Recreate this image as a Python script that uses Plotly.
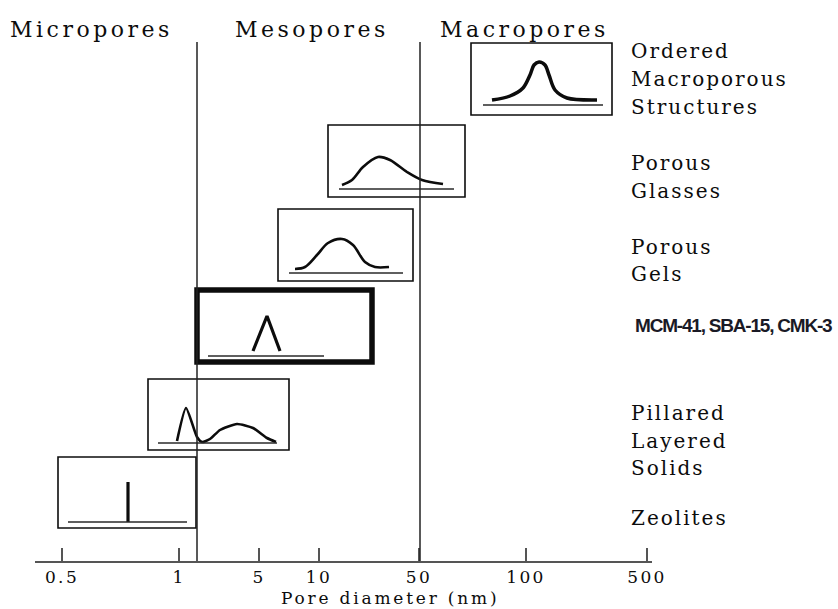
import plotly.graph_objects as go

# ---------------- data (diagram units = page pixels) ----
tick_labels = ["0.5", "1", "5", "10", "50", "100", "500"]
tick_pos = [62, 179, 259, 319, 419, 526, 647]

region_names = ["Micropores", "Mesopores", "Macropores"]
region_centers = [91, 312, 524]
region_bounds = [197, 420]          # 2 nm and 50 nm boundaries

materials = ["Ordered Macroporous Structures", "Porous Glasses", "Porous Gels",
             "MCM-41, SBA-15, CMK-3", "Pillared Layered Solids", "Zeolites"]
label_lines = [["Ordered", "Macroporous", "Structures"],
               ["Porous", "Glasses"],
               ["Porous", "Gels"],
               ["MCM-41, SBA-15, CMK-3"],
               ["Pillared", "Layered", "Solids"],
               ["Zeolites"]]
label_y = [[51, 79, 107], [163, 191], [247, 274], [325], [413, 441, 468], [518]]

box_x0 = [471, 328, 278, 197, 148, 58]
box_x1 = [612, 465, 413, 372, 289, 196]
box_y0 = [43, 125, 209, 290, 379, 457]
box_y1 = [115, 197, 281, 362, 450, 528]

base_x0 = [483, 339, 289, 208, 158, 68]
base_x1 = [603, 454, 403, 324, 277, 187]
base_y = [105, 189, 273, 356, 443, 522]

curve_x = [
    [492, 510, 523, 530, 534, 539, 545, 549, 555, 567, 597],
    [342, 352, 363, 378, 390, 407, 422, 443],
    [295, 305, 317, 328, 342, 353, 365, 375, 389],
    [253, 267, 280],
    [177, 186, 197, 202, 210, 220, 237, 253, 267, 276],
    [128, 128],
]
curve_y = [
    [100, 96, 88, 75, 65, 62, 65, 75, 90, 98, 100],
    [185, 180, 167, 157, 160, 172, 180, 184],
    [269, 267, 255, 243, 239, 245, 262, 267, 267],
    [351, 316, 351],
    [441, 408, 437, 442, 439, 430, 424, 428, 438, 442],
    [522, 482],
]
curve_shape = ["spline", "spline", "spline", "linear", "spline", "linear"]
curve_smooth = [0.9, 0.9, 0.9, 0, 0.55, 0]
curve_width = [3.5, 2.6, 2.6, 3.2, 2.6, 3.2]
box_width = [1.6, 1.6, 1.6, 5.5, 1.6, 1.6]

# ---------------- figure ----------------
INK = "#0c0c0c"
SERIF = "DejaVu Serif"
AX_TOP, AX_BOTTOM = 0, 561


def spaced(s, px):
    return '<span style="letter-spacing:%spx">%s</span>' % (px, s)


fig = go.Figure()

for i in range(len(materials)):
    line = dict(color=INK, width=curve_width[i], shape=curve_shape[i])
    if curve_shape[i] == "spline":
        line["smoothing"] = curve_smooth[i]
    fig.add_trace(go.Scatter(
        x=curve_x[i], y=curve_y[i], mode="lines", line=line,
        name=materials[i], hoverinfo="skip"))
    fig.add_trace(go.Scatter(
        x=[base_x0[i], base_x1[i]], y=[base_y[i], base_y[i]], mode="lines",
        line=dict(color="#2a2a2a", width=1.6), hoverinfo="skip"))

shapes = []
for i in range(len(materials)):
    shapes.append(dict(type="rect", xref="x", yref="y",
                       x0=box_x0[i], x1=box_x1[i], y0=box_y0[i], y1=box_y1[i],
                       line=dict(color=INK, width=box_width[i]),
                       fillcolor="rgba(0,0,0,0)", layer="above"))
for bx in region_bounds:
    shapes.append(dict(type="line", xref="x", yref="y", x0=bx, x1=bx,
                       y0=42, y1=AX_BOTTOM, line=dict(color="#222", width=1.5)))

annotations = []
for name, cx in zip(region_names, region_centers):
    annotations.append(dict(x=cx, y=29, xref="x", yref="y", text=spaced(name, 3.5),
                            showarrow=False, xanchor="center", yanchor="middle",
                            font=dict(family=SERIF, size=22, color=INK)))

for i, lines in enumerate(label_lines):
    for j, line in enumerate(lines):
        if i == 3:
            annotations.append(dict(x=633, y=label_y[i][j], xref="x", yref="y",
                                    text='<b><span style="letter-spacing:-1.2px">%s</span></b>' % line,
                                    showarrow=False,
                                    xanchor="left", yanchor="middle",
                                    font=dict(family="Liberation Sans", size=19,
                                              color="#1a1a26")))
        else:
            annotations.append(dict(x=629, y=label_y[i][j], xref="x", yref="y",
                                    text=spaced(line, 2), showarrow=False,
                                    xanchor="left", yanchor="middle",
                                    font=dict(family=SERIF, size=20, color=INK)))

# axis title placed below the axis (paper coords, below the plotting area)
title_y_px = 598
annotations.append(dict(x=390, y=-(title_y_px - AX_BOTTOM) / (AX_BOTTOM - AX_TOP),
                        xref="x", yref="paper",
                        text=spaced("Pore diameter (nm)", 2.8), showarrow=False,
                        xanchor="center", yanchor="middle",
                        font=dict(family=SERIF, size=17, color=INK)))

fig.update_layout(
    width=838, height=609,
    margin=dict(l=35, r=186, t=AX_TOP, b=609 - AX_BOTTOM),
    paper_bgcolor="white", plot_bgcolor="white",
    showlegend=False, hovermode=False,
    shapes=shapes, annotations=annotations,
    xaxis=dict(range=[35, 652], showgrid=False, zeroline=False,
               showline=True, linecolor="#555", linewidth=1.6,
               ticks="inside", ticklen=13, tickwidth=1.5, tickcolor="#555",
               tickmode="array", tickvals=tick_pos,
               ticktext=[spaced(t, 2.4) for t in tick_labels],
               tickfont=dict(family=SERIF, size=17, color=INK),
               fixedrange=True),
    yaxis=dict(range=[AX_BOTTOM, AX_TOP], visible=False, fixedrange=True),
)

fig.write_html("out.html", config={"displayModeBar": False})
